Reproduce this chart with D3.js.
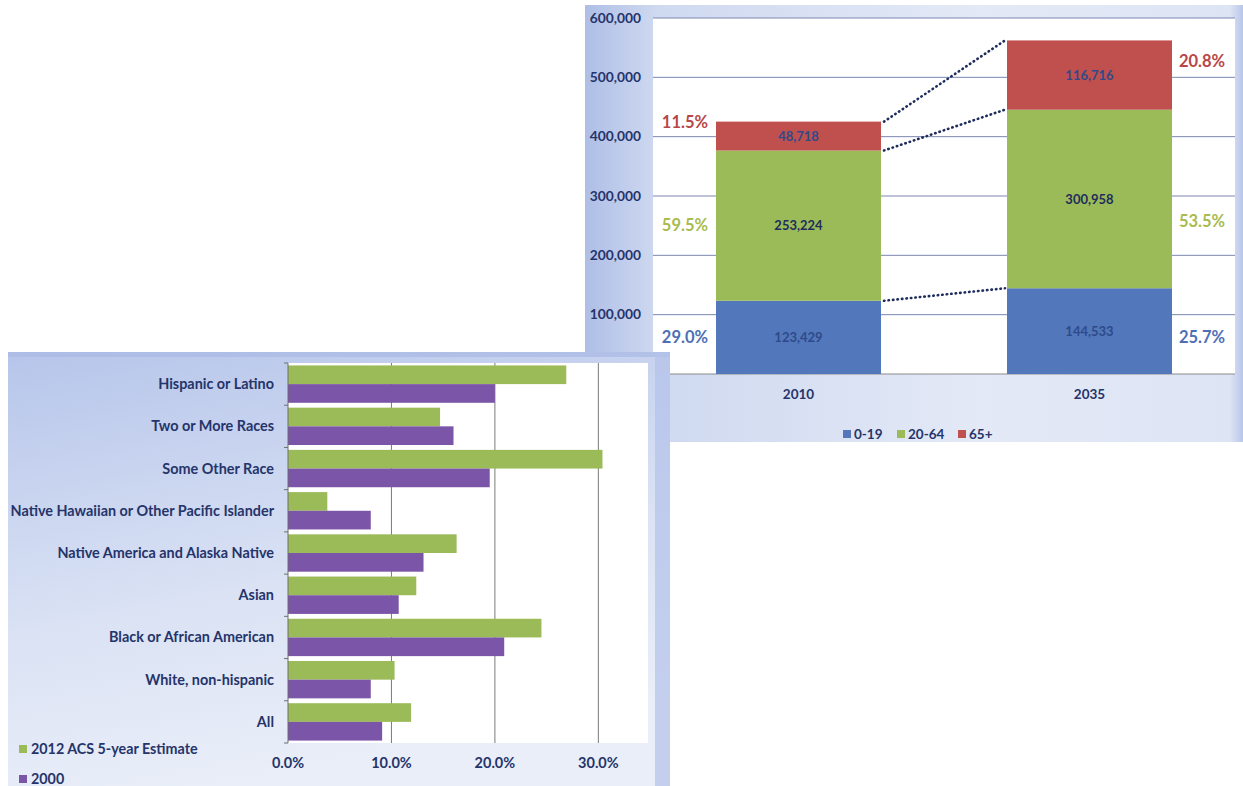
<!DOCTYPE html>
<html>
<head>
<meta charset="utf-8">
<script src="https://cdn.jsdelivr.net/npm/d3@7"></script>
<style>
  body { margin: 0; background: #fff; }
  text { font-family: Lato, 'Open Sans', sans-serif; font-weight: bold; }
</style>
</head>
<body>
<div id="chart"></div>
<script>
// population by age group
const years = ['2010', '2035']
const ageGroups = ['0-19', '20-64', '65+']
const pop0to19 = [123429, 144533]
const pop20to64 = [253224, 300958]
const pop65plus = [48718, 116716]
const popTicks = [0, 100000, 200000, 300000, 400000, 500000, 600000]

// race shares
const races = [
  'Hispanic or Latino',
  'Two or More Races',
  'Some Other Race',
  'Native Hawaiian or Other Pacific Islander',
  'Native America and Alaska Native',
  'Asian',
  'Black or African American',
  'White, non-hispanic',
  'All'
]
const acs2012 = [26.9, 14.7, 30.4, 3.8, 16.3, 12.4, 24.5, 10.3, 11.9]
const census2000 = [20.0, 16.0, 19.5, 8.0, 13.1, 10.7, 20.9, 8.0, 9.1]
const pctTicks = [0, 10, 20, 30]
const raceSeries = ['2012 ACS 5-year Estimate', '2000']

const navy = '#25346a'
const ageColors = ['#5277bb', '#9bbb59', '#c0504d']
const pctColors = ['#4f6fb5', '#a9bb4f', '#b94646']
const raceColors = ['#9bbb59', '#7b55a8']

const svg = d3
  .select('#chart')
  .append('svg')
  .attr('width', 1243)
  .attr('height', 786)

const defs = svg.append('defs')

const g1 = defs.append('linearGradient').attr('id', 'bgTop')
g1.append('stop').attr('offset', '0%').attr('stop-color', '#aebee6')
g1.append('stop').attr('offset', '11%').attr('stop-color', '#cfd9f0')
g1.append('stop').attr('offset', '60%').attr('stop-color', '#e3e9f6')
g1.append('stop').attr('offset', '98%').attr('stop-color', '#dde4f4')
g1.append('stop').attr('offset', '100%').attr('stop-color', '#b8c6ea')

const g2 = defs.append('linearGradient').attr('id', 'bgBottom')
  .attr('x1', 0).attr('y1', 0).attr('x2', 0.3).attr('y2', 1)
g2.append('stop').attr('offset', '0%').attr('stop-color', '#b6c5ea')
g2.append('stop').attr('offset', '60%').attr('stop-color', '#dae2f4')
g2.append('stop').attr('offset', '100%').attr('stop-color', '#e9eef8')

// ---------- top chart: stacked bars ----------
const popChart = svg.append('g')

popChart.append('rect')
  .attr('x', 585).attr('y', 5).attr('width', 658).attr('height', 437)
  .attr('fill', 'url(#bgTop)')

const plot1 = { left: 653, right: 1235, top: 18, bottom: 374 }

popChart.append('rect')
  .attr('x', plot1.left).attr('y', plot1.top)
  .attr('width', plot1.right - plot1.left).attr('height', plot1.bottom - plot1.top)
  .attr('fill', '#fff')

const xYear = d3.scaleBand().domain(years).range([plot1.left, plot1.right])
const yPop = d3.scaleLinear().domain([0, 600000]).range([plot1.bottom, plot1.top])
const barW = xYear.bandwidth() * 0.567
const barX = d => xYear(d) + (xYear.bandwidth() - barW) / 2

// gridlines
popChart.append('g')
  .selectAll('line')
  .data(popTicks)
  .enter()
  .append('line')
  .attr('x1', plot1.left)
  .attr('x2', plot1.right)
  .attr('y1', d => yPop(d))
  .attr('y2', d => yPop(d))
  .attr('stroke', d => d === 0 ? '#8a8a8a' : '#7c86b0')
  .attr('stroke-width', 1)

popChart.append('g')
  .selectAll('text')
  .data(popTicks)
  .enter()
  .append('text')
  .attr('x', 641)
  .attr('y', d => yPop(d))
  .attr('dy', '0.35em')
  .attr('text-anchor', 'end')
  .attr('font-size', '13.8px')
  .attr('fill', navy)
  .text(d => d3.format(',')(d))

// stack the data
const rows = years.map((y, i) => ({ year: y, '0-19': pop0to19[i], '20-64': pop20to64[i], '65+': pop65plus[i] }))
const stacked = d3.stack().keys(ageGroups)(rows)

// dotted connectors between bar edges
stacked.forEach(layer => {
  popChart.append('line')
    .attr('x1', barX(years[0]) + barW + 3)
    .attr('y1', yPop(layer[0][1]))
    .attr('x2', barX(years[1]) - 2)
    .attr('y2', yPop(layer[1][1]))
    .attr('stroke', '#1f2d5c')
    .attr('stroke-width', 2.6)
    .attr('stroke-dasharray', '0.5,4')
    .attr('stroke-linecap', 'round')
})

stacked.forEach((layer, k) => {
  const grp = popChart.append('g')
  grp.selectAll('rect')
    .data(layer)
    .enter()
    .append('rect')
    .attr('x', d => barX(d.data.year))
    .attr('width', barW)
    .attr('y', d => yPop(d[1]))
    .attr('height', d => yPop(d[0]) - yPop(d[1]))
    .attr('fill', ageColors[k])

  grp.selectAll('text.val')
    .data(layer)
    .enter()
    .append('text')
    .attr('class', 'val')
    .attr('x', d => barX(d.data.year) + barW / 2)
    .attr('y', d => (yPop(d[0]) + yPop(d[1])) / 2)
    .attr('dy', '0.35em')
    .attr('text-anchor', 'middle')
    .attr('font-size', '13px')
    .attr('fill', k === 1 ? '#1f2d5c' : '#2f4a8a')
    .text(d => d3.format(',')(d[1] - d[0]))

  // share labels, left of 2010 and right of 2035
  grp.selectAll('text.pct')
    .data(layer)
    .enter()
    .append('text')
    .attr('class', 'pct')
    .attr('x', (d, i) => i === 0 ? barX(d.data.year) - 8 : barX(d.data.year) + barW + 7)
    .attr('y', (d, i) => {
      if (k === 2) return (yPop(d[0]) + yPop(d[1])) / 2 - 14
      const first = layer[0]
      return (yPop(first[0]) + yPop(first[1])) / 2 - (i === 1 && k === 1 ? 4 : 0)
    })
    .attr('dy', '0.35em')
    .attr('text-anchor', (d, i) => i === 0 ? 'end' : 'start')
    .attr('font-size', '16.5px')
    .attr('font-weight', 'normal')
    .attr('fill', pctColors[k])
    .text(d => {
      const total = d.data['0-19'] + d.data['20-64'] + d.data['65+']
      return d3.format('.1%')((d[1] - d[0]) / total)
    })
})

// category labels
popChart.append('g')
  .selectAll('text')
  .data(years)
  .enter()
  .append('text')
  .attr('x', d => xYear(d) + xYear.bandwidth() / 2)
  .attr('y', 399)
  .attr('text-anchor', 'middle')
  .attr('font-size', '13.5px')
  .attr('fill', navy)
  .text(d => d)

// legend
const legX = [843, 897, 958]
const leg1 = popChart.append('g')
ageGroups.forEach((a, i) => {
  leg1.append('rect')
    .attr('x', legX[i]).attr('y', 430).attr('width', 8).attr('height', 8)
    .attr('fill', ageColors[i])
  leg1.append('text')
    .attr('x', legX[i] + 11).attr('y', 439)
    .attr('font-size', '13.5px')
    .attr('fill', navy)
    .text(a)
})

// ---------- bottom chart: horizontal bars ----------
const raceChart = svg.append('g')

raceChart.append('rect')
  .attr('x', 8).attr('y', 352).attr('width', 662).attr('height', 434)
  .attr('fill', 'url(#bgBottom)')
raceChart.append('rect')
  .attr('x', 8).attr('y', 352).attr('width', 662).attr('height', 5)
  .attr('fill', '#a9b9e4')
  .attr('opacity', 0.7)
raceChart.append('rect')
  .attr('x', 655).attr('y', 352).attr('width', 15).attr('height', 434)
  .attr('fill', '#b3c2ea')
  .attr('opacity', 0.7)

const plot2 = { left: 288, right: 648, top: 363, bottom: 743 }

raceChart.append('rect')
  .attr('x', plot2.left).attr('y', plot2.top)
  .attr('width', plot2.right - plot2.left).attr('height', plot2.bottom - plot2.top)
  .attr('fill', '#fff')

const xPct = d3.scaleLinear().domain([0, 34.8]).range([plot2.left, plot2.right])
const yRace = d3.scaleBand().domain(races).range([plot2.top, plot2.bottom])
const ySeries = d3.scaleBand().domain(raceSeries)
  .range([0, yRace.bandwidth()]).paddingOuter(0.13).paddingInner(0)

// vertical gridlines
raceChart.append('g')
  .selectAll('line')
  .data(pctTicks.slice(1))
  .enter()
  .append('line')
  .attr('x1', d => xPct(d))
  .attr('x2', d => xPct(d))
  .attr('y1', plot2.top)
  .attr('y2', plot2.bottom)
  .attr('stroke', '#7a7a7a')
  .attr('stroke-width', 1)

raceChart.append('g')
  .selectAll('text')
  .data(pctTicks)
  .enter()
  .append('text')
  .attr('x', d => xPct(d))
  .attr('y', 768)
  .attr('text-anchor', 'middle')
  .attr('font-size', '14.5px')
  .attr('fill', navy)
  .text(d => d3.format('.1f')(d) + '%')

const seriesValues = [acs2012, census2000]
seriesValues.forEach((vals, s) => {
  raceChart.append('g')
    .selectAll('rect')
    .data(vals)
    .enter()
    .append('rect')
    .attr('x', plot2.left)
    .attr('y', (d, i) => yRace(races[i]) + ySeries(raceSeries[s]))
    .attr('width', d => xPct(d) - plot2.left)
    .attr('height', ySeries.bandwidth())
    .attr('fill', raceColors[s])
})

// left axis with ticks at category boundaries
const tickYs = races.map(r => yRace(r)).concat([plot2.bottom])
raceChart.append('line')
  .attr('x1', plot2.left).attr('x2', plot2.left)
  .attr('y1', plot2.top).attr('y2', plot2.bottom)
  .attr('stroke', '#6f6f6f')
raceChart.append('g')
  .selectAll('line')
  .data(tickYs)
  .enter()
  .append('line')
  .attr('x1', plot2.left - 4).attr('x2', plot2.left)
  .attr('y1', d => d).attr('y2', d => d)
  .attr('stroke', '#6f6f6f')

raceChart.append('g')
  .selectAll('text')
  .data(races)
  .enter()
  .append('text')
  .attr('x', 274)
  .attr('y', d => yRace(d) + yRace.bandwidth() / 2)
  .attr('dy', '0.35em')
  .attr('text-anchor', 'end')
  .attr('font-size', '14.4px')
  .attr('fill', navy)
  .text(d => d)

// legend
const leg2 = raceChart.append('g')
raceSeries.forEach((s, i) => {
  leg2.append('rect')
    .attr('x', 19).attr('y', 745 + i * 30).attr('width', 8).attr('height', 8)
    .attr('fill', raceColors[i])
  leg2.append('text')
    .attr('x', 31).attr('y', 754 + i * 30)
    .attr('font-size', '14.3px')
    .attr('fill', navy)
    .text(s)
})
</script>
</body>
</html>
